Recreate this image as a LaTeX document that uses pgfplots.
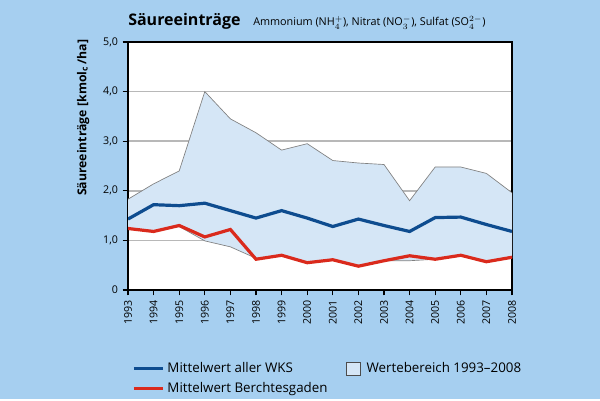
\documentclass[border=0pt]{standalone}
\usepackage{pgfplots}
\pgfplotsset{compat=1.18}
\usepackage{fontspec}
\setmainfont{Open Sans}
\definecolor{bgblue}{HTML}{A6CFF0}
\definecolor{rangefill}{HTML}{D5E6F6}
\definecolor{wksblue}{HTML}{0E4C8F}
\definecolor{bgred}{HTML}{DA2A1C}
\definecolor{gridgray}{HTML}{B8B8B8}
\begin{document}
\begin{tikzpicture}[x=0.75pt,y=0.75pt]
\fill[bgblue] (0,0) rectangle (600,399);
\node[anchor=base west,font=\bfseries\fontsize{12}{14}\selectfont,inner sep=0] at (128,373) {Säureeinträge};
\node[anchor=base west,font=\fontsize{8.1}{10}\selectfont,inner sep=0] at (253,373) {Ammonium (NH$_4^+$), Nitrat (NO$_3^-$), Sulfat (SO$_4^{2-}$)};
\begin{axis}[
  at={(96pt,81.75pt)}, anchor=south west,
  scale only axis, width=288pt, height=186pt,
  xmin=1993, xmax=2008, ymin=0, ymax=5,
  axis background/.style={fill=white},
  axis line style={line width=1.1pt,black},
  xtick={1993,...,2008},
  xticklabels={1993,1994,1995,1996,1997,1998,1999,2000,2001,2002,2003,2004,2005,2006,2007,2008},
  ytick={0,1,2,3,4,5},
  yticklabels={0,{1,0},{2,0},{3,0},{4,0},{5,0}},
  tick align=outside, xtick pos=bottom, ytick pos=left,
  major tick length=4pt,
  tick style={line width=1pt,black},
  /pgf/number format/assume math mode=true,
  ticklabel style={font=\fontsize{8}{9}\selectfont},
  xticklabel style={rotate=90,anchor=east},
  ymajorgrids, grid style={gridgray,line width=1.1pt},
  ylabel={\textbf{Säureeinträge [kmol\textsubscript{c}\,/ha]}},
  ylabel style={font=\fontsize{9.2}{10}\selectfont,at={(axis description cs:-0.117,0.694)},anchor=center},
  legend columns=2,
  legend style={at={(0,-0.27)},anchor=north west,draw=none,fill=none,
    font=\fontsize{10}{12}\selectfont,
    /tikz/every even column/.append style={column sep=12pt},
    row sep=2pt},
  legend cell align=left,
]
\addplot[fill=rangefill,draw=none,forget plot] coordinates {
(1993,1.83)(1994,2.14)(1995,2.40)(1996,4.00)(1997,3.45)(1998,3.17)(1999,2.82)(2000,2.95)
(2001,2.61)(2002,2.56)(2003,2.53)(2004,1.80)(2005,2.48)(2006,2.48)(2007,2.35)(2008,1.96)
(2008,0.65)(2007,0.57)(2006,0.69)(2005,0.62)(2004,0.59)(2003,0.59)(2002,0.48)(2001,0.60)
(2000,0.54)(1999,0.69)(1998,0.64)(1997,0.87)(1996,0.99)(1995,1.28)(1994,1.18)(1993,1.23)} -- cycle;
\addplot[gray,line width=0.5pt,forget plot] coordinates {
(1993,1.83)(1994,2.14)(1995,2.40)(1996,4.00)(1997,3.45)(1998,3.17)(1999,2.82)(2000,2.95)
(2001,2.61)(2002,2.56)(2003,2.53)(2004,1.80)(2005,2.48)(2006,2.48)(2007,2.35)(2008,1.96)};
\addplot[gray,line width=0.5pt,forget plot] coordinates {
(1993,1.23)(1994,1.18)(1995,1.28)(1996,0.99)(1997,0.87)(1998,0.64)(1999,0.69)(2000,0.54)
(2001,0.60)(2002,0.48)(2003,0.59)(2004,0.59)(2005,0.62)(2006,0.69)(2007,0.57)(2008,0.65)};
\addplot[wksblue,line width=2.4pt,forget plot] coordinates {
(1993,1.43)(1994,1.72)(1995,1.70)(1996,1.75)(1997,1.60)(1998,1.45)(1999,1.60)(2000,1.45)
(2001,1.28)(2002,1.43)(2003,1.30)(2004,1.18)(2005,1.46)(2006,1.47)(2007,1.32)(2008,1.18)};
\addplot[bgred,line width=2.4pt,forget plot] coordinates {
(1993,1.24)(1994,1.18)(1995,1.30)(1996,1.07)(1997,1.22)(1998,0.62)(1999,0.70)(2000,0.55)
(2001,0.61)(2002,0.48)(2003,0.59)(2004,0.69)(2005,0.62)(2006,0.70)(2007,0.57)(2008,0.66)};
\addlegendimage{legend image code/.code={\draw[wksblue,line width=2.4pt] (0pt,0pt) -- (22pt,0pt);}}
\addlegendentry{Mittelwert aller WKS}
\addlegendimage{legend image code/.code={\draw[fill=rangefill,draw=black!70,line width=0.6pt] (0pt,-5pt) rectangle (10pt,5pt); \path[draw=none,fill=none] (0pt,0pt) -- (13pt,0pt);}}
\addlegendentry{Wertebereich 1993–2008}
\addlegendimage{legend image code/.code={\draw[bgred,line width=2.4pt] (0pt,0pt) -- (22pt,0pt);}}
\addlegendentry{Mittelwert Berchtesgaden}
\end{axis}
\end{tikzpicture}
\end{document}
